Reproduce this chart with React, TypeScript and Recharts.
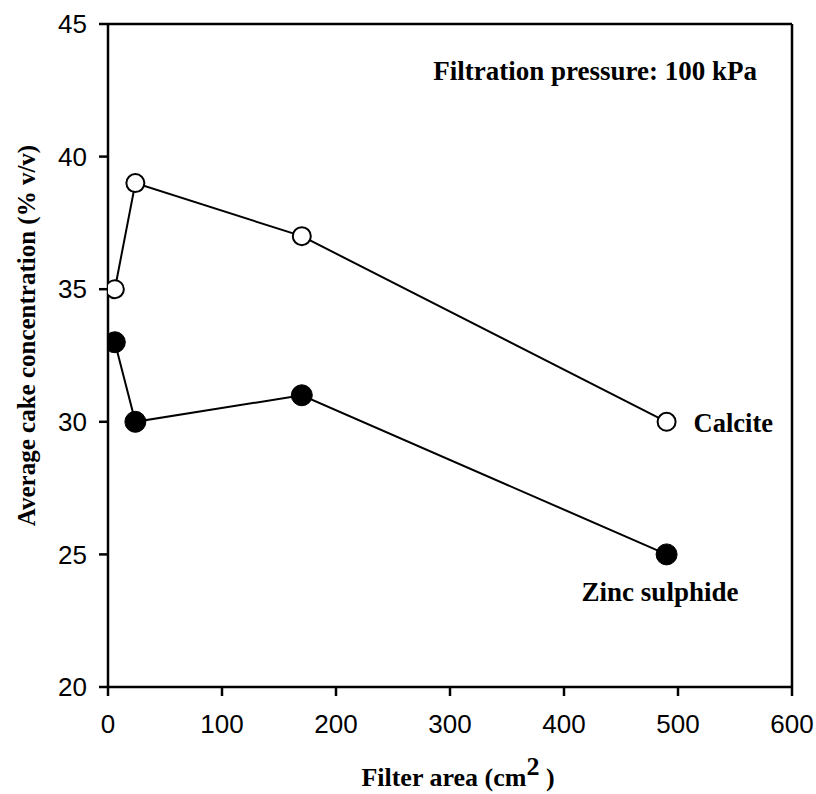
import React from "react";
import { LineChart, Line, XAxis, YAxis, LabelList, ReferenceLine } from "recharts";

const filterArea = [6, 24, 170, 490];
const calcite = [35, 39, 37, 30];
const zincSulphide = [33, 30, 31, 25];
const xTicks = [0, 100, 200, 300, 400, 500, 600];
const yTicks = [20, 25, 30, 35, 40, 45];

const seriesNames = { calcite: "Calcite", zinc: "Zinc sulphide" };
const annotation = "Filtration pressure: 100 kPa";

const rows = filterArea.map((x, i) => ({ x, calcite: calcite[i], zinc: zincSulphide[i] }));

const SERIF = '"Liberation Serif", "Times New Roman", serif';
const SANS = '"Liberation Sans", Arial, sans-serif';

const tickStyle = { fontFamily: SANS, fontSize: 26, fill: "#000" };

const lastIndex = rows.length - 1;

const CalciteLabel = (props: any) => {
  const { x, y, index } = props;
  if (index !== lastIndex) return null;
  return (
    <text x={x + 27} y={y + 10} fontFamily={SERIF} fontWeight="bold" fontSize={26.5} fill="#000">
      {seriesNames.calcite}
    </text>
  );
};

const ZincLabel = (props: any) => {
  const { x, y, index } = props;
  if (index !== lastIndex) return null;
  return (
    <text x={x - 85} y={y + 47} fontFamily={SERIF} fontWeight="bold" fontSize={27} fill="#000">
      {seriesNames.zinc}
    </text>
  );
};

const YLabel = (props: any) => {
  const vb = props.viewBox;
  const cx = 26;
  const cy = vb.y + vb.height / 2 - 20;
  return (
    <text
      x={cx}
      y={cy}
      transform={`rotate(-90, ${cx}, ${cy})`}
      textAnchor="middle"
      dominantBaseline="central"
      fontFamily={SERIF}
      fontWeight="bold"
      fontSize={25}
      fill="#000"
    >
      Average cake concentration (% v/v)
    </text>
  );
};

const XLabel = (props: any) => {
  const vb = props.viewBox;
  const cx = vb.x + vb.width / 2 + 8;
  return (
    <text x={cx} y={786} textAnchor="middle" fontFamily={SERIF} fontWeight="bold" fontSize={26} fill="#000">
      Filter area (cm
      <tspan dy={-11}>2</tspan>
      <tspan dy={11}> )</tspan>
    </text>
  );
};

const Annotation = (props: any) => {
  const vb = props.viewBox;
  return (
    <text
      x={vb.x + vb.width - 35}
      y={vb.y + 56}
      textAnchor="end"
      fontFamily={SERIF}
      fontWeight="bold"
      fontSize={27}
      fill="#000"
    >
      {annotation}
    </text>
  );
};

export default function App() {
  return (
    <div style={{ position: "absolute", left: 0, top: 0, width: 816, height: 794 }}>
      <LineChart
        width={816}
        height={794}
        data={rows}
        margin={{ top: 24, right: 24, bottom: 47, left: 48 }}
      >
        <XAxis
          type="number"
          dataKey="x"
          domain={[0, 600]}
          ticks={xTicks}
          allowDataOverflow
          tick={tickStyle}
          tickSize={9}
          tickMargin={19}
          height={60}
          axisLine={{ stroke: "#000", strokeWidth: 2.5 }}
          tickLine={{ stroke: "#000", strokeWidth: 2.5 }}
          label={{ content: <XLabel /> }}
        />
        <YAxis
          type="number"
          domain={[20, 45]}
          ticks={yTicks}
          allowDataOverflow
          tick={tickStyle}
          tickSize={9}
          tickMargin={12}
          width={60}
          axisLine={{ stroke: "#000", strokeWidth: 2.5 }}
          tickLine={{ stroke: "#000", strokeWidth: 2.5 }}
          label={{ content: <YLabel /> }}
        />
        <ReferenceLine y={45} stroke="#000" strokeWidth={2.5} label={{ content: <Annotation /> }} />
        <ReferenceLine x={600} stroke="#000" strokeWidth={2.5} />
        <Line
          type="linear"
          dataKey="calcite"
          stroke="#000"
          strokeWidth={2}
          isAnimationActive={false}
          dot={{ r: 9, fill: "#fff", stroke: "#000", strokeWidth: 2 }}
          activeDot={false}
        >
          <LabelList dataKey="calcite" content={<CalciteLabel />} />
        </Line>
        <Line
          type="linear"
          dataKey="zinc"
          stroke="#000"
          strokeWidth={2}
          isAnimationActive={false}
          dot={{ r: 10.5, fill: "#000", stroke: "#000", strokeWidth: 1 }}
          activeDot={false}
        >
          <LabelList dataKey="zinc" content={<ZincLabel />} />
        </Line>
      </LineChart>
    </div>
  );
}
